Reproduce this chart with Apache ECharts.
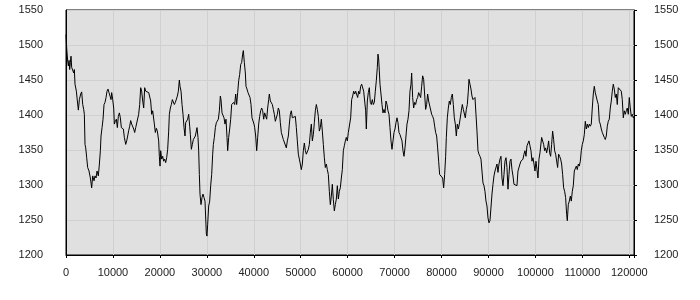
<!DOCTYPE html>
<html>
<head>
<meta charset="utf-8">
<script src="https://cdn.jsdelivr.net/npm/echarts@6/dist/echarts.min.js"></script>
<style>html,body{margin:0;padding:0;background:#fff}#c{width:700px;height:300px}</style>
</head>
<body>
<div id="c"></div>
<script>
// x tick labels and y range
const xTicks = [0,10000,20000,30000,40000,50000,60000,70000,80000,90000,100000,110000,120000];
const yTicks = [1200,1250,1300,1350,1400,1450,1500,1550];
const xMax = 121000;

// series values in segments: [x, value]
const seg1 = [[0,1515],[150,1495],[360,1477],[500,1470],[650,1478],[790,1465],[930,1475],[1070,1484],[1210,1468],[1430,1470],[1640,1460],[1780,1465],[1920,1444],[2210,1434],[2420,1420],[2630,1407],[2850,1422],[3130,1430],[3340,1433],[3560,1415],[3770,1408],[3910,1401],[4050,1358],[4200,1353],[4410,1339],[4620,1325],[4900,1320],[5190,1310],[5470,1296],[5690,1313],[5970,1306],[6180,1313],[6400,1310],[6610,1320],[6890,1313],[7110,1330],[7320,1349],[7460,1370],[7680,1382],[7890,1394],[8100,1415],[8310,1418],[8530,1425],[8740,1434],[8950,1437],[9160,1432],[9380,1427],[9590,1422],[9730,1432],[9950,1422],[10160,1410],[10300,1387],[10510,1391],[10730,1394],[10940,1382],[11150,1398],[11370,1403],[11580,1396],[11790,1382],[12010,1382],[12220,1380],[12430,1368],[12720,1358],[12930,1363],[13140,1370],[13360,1378],[13570,1384],[13780,1392],[13990,1387],[14210,1389],[14420,1380],[14630,1375],[14850,1382],[15060,1384],[15270,1380],[15480,1401],[15700,1415],[15910,1439],[16120,1434],[16340,1420],[16550,1410],[16760,1439],[16980,1434],[17190,1432],[17400,1434],[17620,1432],[17830,1434],[18040,1420],[18250,1401],[18470,1406],[18680,1406],[18820,1387],[19030,1375],[19250,1381],[19460,1377]];
const seg2 = [[19745,1363],[19887,1341],[20029,1327],[20171,1349],[20384,1337],[20597,1341],[20810,1334],[21023,1337],[21236,1332],[21449,1339],[21662,1351],[21875,1377],[22017,1401],[22230,1410],[22443,1415],[22656,1422],[22869,1420],[23082,1415],[23295,1418],[23508,1420],[23721,1427],[23934,1434],[24147,1450],[24289,1441],[24502,1434],[24715,1415],[24928,1401],[25141,1382],[25354,1370],[25496,1389],[25709,1391],[25922,1394],[26135,1401],[26348,1384],[26490,1372],[26703,1351],[26916,1358],[27129,1365],[27342,1363],[27555,1370],[27768,1372],[27910,1382],[28123,1368],[28265,1349],[28407,1315],[28549,1287],[28762,1272],[28975,1282],[29188,1287],[29401,1282],[29614,1277],[29756,1275],[29898,1230],[30040,1227],[30182,1244],[30395,1270],[30608,1277],[30821,1299],[31034,1315],[31247,1344],[31389,1358],[31602,1368],[31815,1382],[32028,1389],[32241,1387],[32454,1394],[32667,1406],[32880,1427],[33022,1422],[33235,1403],[33448,1401],[33661,1396],[33874,1387],[34087,1394],[34300,1368],[34442,1349],[34655,1368],[34868,1380],[35081,1394],[35294,1415],[35507,1413],[35720,1418],[35933,1415],[36146,1430],[36359,1415],[36572,1432],[36785,1449],[36998,1458],[37211,1472],[37424,1475],[37637,1487],[37779,1492],[37992,1475],[38205,1460],[38347,1441],[38560,1437],[38773,1432],[38986,1430],[39199,1425],[39412,1415],[39625,1396],[39838,1394],[40051,1387]];
const seg3 = [[40193,1382],[40406,1370],[40619,1349],[40832,1368],[41045,1387],[41258,1398],[41471,1406],[41684,1410],[41897,1406],[42110,1394],[42323,1403],[42536,1401],[42749,1394],[42962,1410],[43175,1422],[43317,1430],[43530,1420],[43743,1418],[43956,1415],[44169,1408],[44382,1401],[44595,1391],[44808,1389],[45021,1401],[45234,1410],[45447,1406],[45660,1389],[45873,1375],[46086,1370],[46299,1365],[46512,1363],[46725,1365],[46938,1353],[47151,1363],[47364,1370],[47577,1387],[47790,1401],[48003,1406],[48216,1396],[48429,1394],[48642,1398],[48855,1398],[49068,1382],[49281,1363],[49494,1344],[49707,1337],[49920,1330],[50133,1322],[50346,1330],[50559,1349],[50772,1360],[50985,1349],[51198,1344],[51411,1346],[51624,1351],[51837,1358],[52050,1375],[52263,1387],[52476,1363],[52689,1372],[52902,1389],[53115,1406],[53328,1415],[53541,1408],[53754,1398],[53967,1377],[54180,1382],[54393,1394],[54606,1377],[54819,1358],[55032,1339],[55245,1325],[55458,1330],[55671,1322],[55884,1315],[56097,1291],[56310,1272],[56523,1284],[56736,1301],[56949,1279],[57162,1263],[57375,1272],[57588,1280],[57801,1299],[58014,1280],[58227,1291],[58440,1296],[58653,1310],[58866,1322],[59079,1349],[59292,1356],[59505,1363],[59718,1368],[59931,1363],[60144,1375],[60357,1375]];
const seg4 = [[60641,1396],[60854,1422],[61067,1427],[61280,1434],[61493,1430],[61706,1434],[61919,1432],[62132,1425],[62345,1434],[62558,1430],[62771,1441],[62984,1444],[63197,1446],[63410,1434],[63623,1432],[63836,1406],[63978,1380],[64191,1420],[64404,1432],[64617,1439],[64830,1418],[65043,1415],[65256,1422],[65469,1415],[65682,1418],[65895,1434],[66108,1449],[66321,1468],[66463,1487],[66605,1480],[66747,1463],[66889,1444],[67102,1430],[67315,1415],[67528,1403],[67741,1408],[67954,1403],[68167,1420],[68380,1415],[68593,1406],[68806,1401],[69019,1382],[69232,1363],[69445,1351],[69658,1363],[69871,1375],[70084,1380],[70297,1389],[70510,1396],[70723,1389],[70936,1375],[71149,1372],[71362,1370],[71575,1363],[71788,1349],[72001,1341],[72214,1353],[72427,1370],[72640,1387],[72853,1394],[73066,1406],[73279,1434],[73492,1444],[73634,1460],[73847,1425],[74060,1410],[74273,1418],[74486,1415],[74699,1422],[74912,1425],[75125,1432],[75338,1432],[75551,1425],[75764,1441],[75977,1456],[76190,1451],[76403,1453],[76616,1408],[76829,1415],[77042,1430],[77255,1420],[77468,1422],[77681,1418],[77894,1401],[78107,1398],[78320,1394],[78533,1384],[78746,1375],[78959,1370],[79172,1353],[79385,1334],[79598,1315],[79811,1313],[80024,1315],[80237,1310],[80450,1296],[80663,1315],[80876,1341]];
const seg5 = [[81018,1368],[81231,1396],[81444,1410],[81657,1420],[81870,1415],[82083,1425],[82296,1430],[82509,1415],[82722,1396],[82935,1387],[83148,1370],[83361,1387],[83574,1380],[83787,1387],[84000,1389],[84213,1406],[84426,1415],[84639,1408],[84852,1406],[85065,1396],[85278,1408],[85491,1415],[85704,1434],[85846,1451],[86059,1444],[86272,1437],[86485,1427],[86698,1422],[86911,1420],[87124,1425],[87337,1401],[87550,1377],[87763,1349],[87976,1344],[88189,1341],[88402,1337],[88615,1320],[88828,1303],[89041,1299],[89254,1291],[89467,1277],[89680,1270],[89893,1253],[90106,1246],[90319,1249],[90532,1251],[90745,1287],[90958,1301],[91171,1313],[91384,1320],[91597,1322],[91810,1330],[92023,1318],[92236,1330],[92449,1337],[92662,1341],[92875,1310],[93088,1299],[93301,1315],[93514,1334],[93727,1339],[93940,1325],[94153,1294],[94366,1315],[94579,1334],[94792,1337],[95005,1322],[95218,1313],[95431,1301],[95644,1299],[95857,1303],[96070,1299],[96283,1320],[96496,1322],[96709,1330],[96922,1334],[97135,1332],[97348,1337],[97561,1344],[97774,1349],[97987,1341],[98200,1356],[98413,1358],[98626,1363],[98839,1356],[99052,1349],[99265,1334],[99478,1339],[99691,1330],[99904,1320],[100117,1334],[100330,1322],[100543,1310],[100756,1337],[100969,1346],[101182,1344]];
const seg6 = [[101324,1368],[101537,1370],[101750,1358],[101963,1349],[102176,1353],[102389,1346],[102602,1353],[102815,1363],[103028,1346],[103241,1341],[103454,1358],[103667,1377],[103880,1365],[104093,1349],[104306,1344],[104519,1344],[104732,1325],[104945,1344],[105158,1341],[105371,1337],[105584,1330],[105797,1315],[106010,1296],[106223,1291],[106436,1282],[106649,1258],[106791,1249],[107004,1272],[107217,1277],[107430,1284],[107643,1277],[107856,1291],[108069,1299],[108282,1320],[108495,1318],[108708,1327],[108921,1322],[109134,1330],[109347,1327],[109560,1334],[109773,1349],[109986,1358],[110199,1363],[110412,1372],[110625,1391],[110838,1380],[111051,1387],[111264,1382],[111477,1387],[111690,1384],[111903,1387],[112116,1410],[112329,1430],[112542,1441],[112755,1432],[112968,1430],[113181,1420],[113394,1415],[113607,1391],[113820,1387],[114033,1380],[114246,1375],[114459,1377],[114672,1368],[114885,1365],[115098,1370],[115311,1384],[115524,1391],[115737,1394],[115950,1410],[116163,1420],[116376,1434],[116589,1444],[116802,1437],[117015,1425],[117228,1430],[117441,1415],[117654,1439],[117867,1439],[118080,1437],[118293,1434],[118506,1422],[118719,1396],[118932,1406],[119145,1401],[119358,1406],[119571,1410],[119784,1401],[119997,1425],[120210,1410],[120423,1398],[120636,1401],[120849,1396],[121000,1398]];

const lineData = seg1.concat(seg2, seg3, seg4, seg5, seg6);

const font = 'Liberation Sans';
const labelStyle = { color: '#222', fontSize: 11, fontFamily: font };
const plain = v => String(v);

const chart = echarts.init(document.getElementById('c'), null, { renderer: 'canvas' });
chart.setOption({
  animation: false,
  backgroundColor: '#ffffff',
  grid: {
    left: 66, right: 66, top: 10, bottom: 45,
    show: true, backgroundColor: '#e0e0e0', borderColor: '#000', borderWidth: 1
  },
  xAxis: {
    type: 'value',
    min: xTicks[0], max: xMax, interval: 10000,
    axisLine: { show: true, lineStyle: { color: '#000', width: 1 } },
    axisTick: { show: true, length: 3, lineStyle: { color: '#000' } },
    axisLabel: Object.assign({
      margin: 12,
      formatter: v => (xTicks.indexOf(v) >= 0 ? String(v) : '')
    }, labelStyle),
    splitLine: { show: true, lineStyle: { color: '#d0d0d0', width: 1 } }
  },
  yAxis: [{
    type: 'value', position: 'left',
    min: yTicks[0], max: yTicks[yTicks.length - 1], interval: 50,
    axisLine: { show: true, lineStyle: { color: '#000', width: 1 } },
    axisTick: { show: false },
    axisLabel: Object.assign({ margin: 23, formatter: plain }, labelStyle),
    splitLine: { show: true, lineStyle: { color: '#d0d0d0', width: 1 } }
  }, {
    type: 'value', position: 'right',
    min: yTicks[0], max: yTicks[yTicks.length - 1], interval: 50,
    axisLine: { show: true, lineStyle: { color: '#000', width: 1 } },
    axisTick: { show: true, length: 3, inside: false, lineStyle: { color: '#000' } },
    axisLabel: Object.assign({ margin: 20, formatter: plain }, labelStyle),
    splitLine: { show: false }
  }],
  series: [{
    type: 'line',
    data: lineData,
    yAxisIndex: 0,
    showSymbol: false,
    symbol: 'none',
    sampling: null,
    lineStyle: { color: '#000', width: 1 },
    z: 5
  }]
});
</script>
</body>
</html>
